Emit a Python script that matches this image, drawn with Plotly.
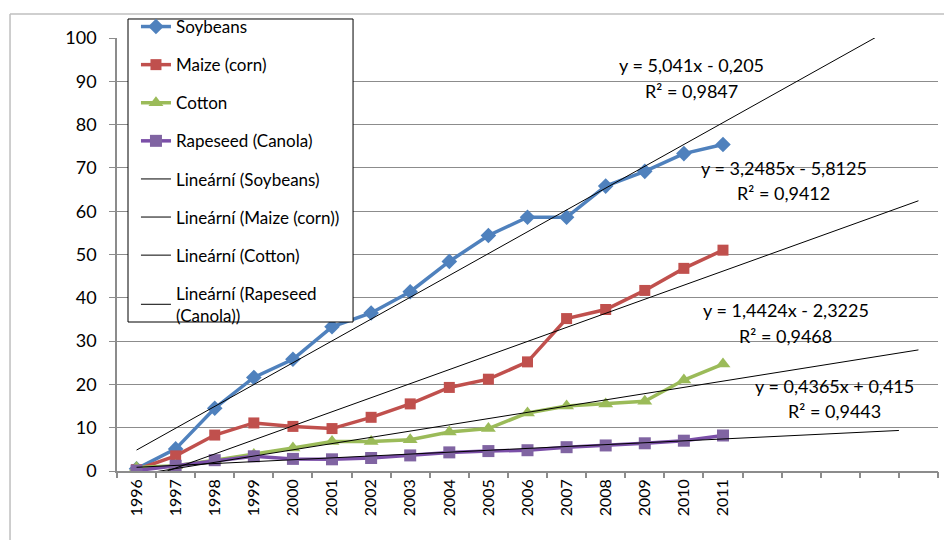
import plotly.graph_objects as go

years = [str(y) for y in range(1996, 2012)]
n_extra = 5  # empty forecast categories on the axis

soybeans = [0.5, 5.1, 14.5, 21.6, 25.8, 33.3, 36.5, 41.4, 48.4, 54.4, 58.6, 58.6, 65.8, 69.2, 73.3, 75.4]
maize = [0.3, 3.5, 8.3, 11.1, 10.3, 9.8, 12.4, 15.5, 19.3, 21.2, 25.2, 35.2, 37.3, 41.7, 46.8, 51.0]
cotton = [0.8, 1.2, 2.5, 3.8, 5.3, 6.8, 6.8, 7.2, 9.0, 9.8, 13.4, 15.0, 15.5, 16.1, 21.0, 24.7]
rapeseed = [0.1, 1.2, 2.5, 3.4, 2.8, 2.7, 3.0, 3.6, 4.3, 4.6, 4.8, 5.5, 5.9, 6.4, 7.0, 8.2]

series_names = ["Soybeans", "Maize (corn)", "Cotton", "Rapeseed (Canola)"]
trend_names = ["Lineární (Soybeans)", "Lineární (Maize (corn))", "Lineární (Cotton)",
               "Lineární (Rapeseed<br>(Canola))"]
slopes = [5.041, 3.2485, 1.4424, 0.4365]
intercepts = [-0.205, -5.8125, -2.3225, 0.415]
forecast = [5, 5, 5, 4.5]
eq_texts = ["y = 5,041x - 0,205", "y = 3,2485x - 5,8125", "y = 1,4424x - 2,3225", "y = 0,4365x + 0,415"]
r2_texts = ["R² = 0,9847", "R² = 0,9412", "R² = 0,9468", "R² = 0,9443"]

colors = ["#4F81BD", "#C0504D", "#9BBB59", "#7B4FA8"]
marker_colors = ["#4F81BD", "#C0504D", "#9BBB59", "#8064A2"]
symbols = ["diamond", "square", "triangle-up", "square"]
msizes = [12, 11, 13, 12]

x = list(range(1, len(years) + 1))
fig = go.Figure()
for i, vals in enumerate([soybeans, maize, cotton, rapeseed]):
    fig.add_trace(go.Scatter(
        x=x, y=vals, mode="lines+markers", name=series_names[i],
        line=dict(color=colors[i], width=3.5),
        marker=dict(symbol=symbols[i], size=msizes[i], color=marker_colors[i]),
        legendgroup="g%d" % i,
    ))
for i in range(4):
    x0, x1 = 1, len(years) + forecast[i]
    fig.add_trace(go.Scatter(
        x=[x0, x1], y=[slopes[i] * x0 + intercepts[i], slopes[i] * x1 + intercepts[i]],
        mode="lines", name=trend_names[i],
        line=dict(color="black", width=1),
        legendgroup="t%d" % i,
    ))

ann_pos = [(15.2, 93.8, 87.8), (17.55, 70.0, 64.2), (17.6, 37.2, 31.2), (18.85, 19.6, 13.9)]
annotations = []
for i, (ax, y1, y2) in enumerate(ann_pos):
    annotations.append(dict(x=ax, y=y1, xref="x", yref="y", text=eq_texts[i], showarrow=False,
                            font=dict(size=18, color="black")))
    annotations.append(dict(x=ax, y=y2, xref="x", yref="y", text=r2_texts[i], showarrow=False,
                            font=dict(size=18, color="black")))

ncat = len(years) + n_extra
fig.update_layout(
    width=952, height=540,
    margin=dict(l=109, r=22, t=30, b=77, autoexpand=False),
    paper_bgcolor="white", plot_bgcolor="white",
    font=dict(family="Lato, Carlito, Liberation Sans, sans-serif", color="black"),
    showlegend=True,
    legend=dict(x=0.0231, y=1.067, xanchor="left", yanchor="top",
                bgcolor="rgba(0,0,0,0)", borderwidth=0,
                font=dict(size=17), tracegroupgap=13, itemwidth=30, maxheight=540),
    xaxis=dict(range=[0.5, ncat + 0.5], tickvals=x, ticktext=years, tickangle=-90,
               showgrid=False, showline=True, linecolor="#8c8c8c", linewidth=1.5,
               ticks="", tickfont=dict(size=16), zeroline=False, automargin=False),
    xaxis2=dict(range=[0.5, ncat + 0.5], overlaying="x", side="bottom",
                tickvals=[k + 0.5 for k in range(0, ncat + 1)], showticklabels=False,
                ticks="outside", ticklen=6, tickcolor="#8c8c8c", tickwidth=1.5,
                showgrid=False, showline=False, zeroline=False, automargin=False),
    yaxis=dict(range=[0, 100], dtick=10, showgrid=True, gridcolor="#8c8c8c", gridwidth=1,
               showline=True, linecolor="#8c8c8c", linewidth=1.5, ticks="outside",
               ticklen=6, tickcolor="#8c8c8c", tickfont=dict(size=18), zeroline=False,
               automargin=False, ticklabelstandoff=9),
    annotations=annotations,
    shapes=[
        dict(type="line", xref="paper", yref="paper", x0=-0.1303, x1=-0.1303, y0=-0.2, y1=1.0554,
             line=dict(color="#bfbfbf", width=1.5)),
        dict(type="line", xref="paper", yref="paper", x0=-0.1303, x1=1.05, y0=1.0554, y1=1.0554,
             line=dict(color="#bfbfbf", width=1.5)),
        dict(type="rect", xref="paper", yref="paper", x0=0.0134, x1=0.2875, y0=0.3441, y1=1.0439,
             fillcolor="white", line=dict(color="black", width=1), layer="above"),
    ],
)
# invisible trace to activate xaxis2
fig.add_trace(go.Scatter(x=[1], y=[0], xaxis="x2", mode="markers", marker=dict(opacity=0),
                         showlegend=False, hoverinfo="skip"))

fig.write_html("out.html")
